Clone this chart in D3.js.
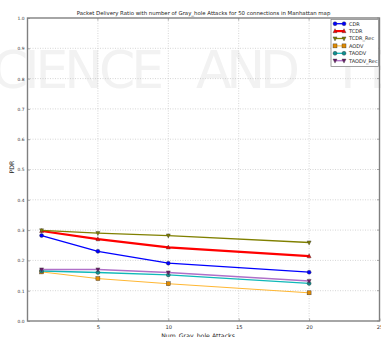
<!DOCTYPE html>
<html lang="en">
  <head>
    <meta charset="utf-8">
    <title>PDR Gray_hole</title>
    <script src="https://cdnjs.cloudflare.com/ajax/libs/d3/7.8.5/d3.min.js"></script>
    <style type="text/css">
      body { margin: 0; background: #fff; }
      text { font-family: "DejaVu Sans", sans-serif; }
    </style>
  </head>
  <body>
    <script type="text/javascript">

    // data
    var attacks = [1, 5, 10, 20];
    var cdr      = [0.282, 0.230, 0.191, 0.161];
    var tcdr     = [0.297, 0.270, 0.243, 0.214];
    var tcdrRec  = [0.299, 0.290, 0.282, 0.259];
    var aodv     = [0.162, 0.140, 0.123, 0.093];
    var taodv    = [0.165, 0.160, 0.152, 0.124];
    var taodvRec = [0.170, 0.170, 0.160, 0.132];
    var xTicks = [5, 10, 15, 20, 25];
    var yTicks = [0, 0.1, 0.2, 0.3, 0.4, 0.5, 0.6, 0.7, 0.8, 0.9, 1.0];

    var series = [
      {name: "CDR",       values: cdr,      color: "#0000ff", marker: "circle",   width: 1.3},
      {name: "TCDR",      values: tcdr,     color: "#ff0000", marker: "triangle", width: 2.2},
      {name: "TCDR_Rec",  values: tcdrRec,  color: "#808000", marker: "tridown",  width: 1.3},
      {name: "AODV",      values: aodv,     color: "#ffb732", marker: "square",   width: 1.0},
      {name: "TAODV",     values: taodv,    color: "#10b8b8", marker: "circle",   width: 1.3},
      {name: "TAODV_Rec", values: taodvRec, color: "#b070c8", marker: "tridown",  width: 1.3}
    ];
    var markerFill = {"TAODV_Rec": "#6a1a6a", "AODV": "#e08a00", "TAODV": "#109090"};

    var w = 381, h = 337;
    var pl = 27.5, pr = 379.5, pt = 18, pb = 321;

    var svg = d3.select("body").append("svg")
                .attr("width", w)
                .attr("height", h);

    // faint watermark from the source page
    var wm = svg.append("g").attr("fill", "#f2f2f2")
                .attr("font-size", "52px");
    wm.append("text").attr("x", -8).attr("y", 88).attr("textLength", 172).text("CIENCE");
    wm.append("text").attr("x", 196).attr("y", 88).attr("textLength", 104).text("AND");
    wm.append("text").attr("x", 332).attr("y", 88).attr("textLength", 70).text("TE");

    var x = d3.scaleLinear().domain([0, 25]).range([pl, pr]);
    var y = d3.scaleLinear().domain([0, 1]).range([pb, pt]);

    // grid
    var grid = svg.append("g").attr("stroke", "#b8b8b8").attr("stroke-width", 0.6)
                  .attr("stroke-dasharray", "1,1.5");
    grid.selectAll("line.gx").data(xTicks.slice(0, -1)).enter().append("line")
        .attr("x1", function(d) { return x(d); }).attr("x2", function(d) { return x(d); })
        .attr("y1", pt).attr("y2", pb);
    grid.selectAll("line.gy").data(yTicks.slice(1, -1)).enter().append("line")
        .attr("x1", pl).attr("x2", pr)
        .attr("y1", function(d) { return y(d); }).attr("y2", function(d) { return y(d); });

    // axes
    var xAxis = d3.axisBottom(x).tickValues(xTicks).tickSize(-2.5).tickPadding(4);
    var yAxis = d3.axisLeft(y).tickValues(yTicks).tickSize(-2.5).tickPadding(3)
                  .tickFormat(d3.format(".1f"));
    var gx = svg.append("g").attr("transform", "translate(0," + pb + ")").call(xAxis);
    gx.selectAll("text").attr("font-size", "5.2px").attr("fill", "#333");
    var gy = svg.append("g").attr("transform", "translate(" + pl + ",0)").call(yAxis);
    gy.selectAll("text").attr("font-size", "4.4px").attr("fill", "#333");
    svg.selectAll(".domain").remove();
    svg.selectAll(".tick line").attr("stroke", "#777").attr("stroke-width", 0.6);

    // top / right ticks
    svg.append("g").selectAll("line").data(xTicks).enter().append("line")
       .attr("x1", function(d) { return x(d); }).attr("x2", function(d) { return x(d); })
       .attr("y1", pt).attr("y2", pt + 2.5).attr("stroke", "#777").attr("stroke-width", 0.6);
    svg.append("g").selectAll("line").data(yTicks).enter().append("line")
       .attr("x1", pr).attr("x2", pr - 2.5)
       .attr("y1", function(d) { return y(d); }).attr("y2", function(d) { return y(d); })
       .attr("stroke", "#777").attr("stroke-width", 0.6);

    svg.append("rect").attr("x", pl).attr("y", pt)
       .attr("width", pr - pl).attr("height", pb - pt)
       .attr("fill", "none").attr("stroke", "#808080").attr("stroke-width", 1.4);

    function drawMarker(g, mk, cx, cy, fill, stroke) {
      var s = 2;
      if (mk === "circle") {
        g.append("circle").attr("cx", cx).attr("cy", cy).attr("r", s)
         .attr("fill", fill).attr("stroke", stroke).attr("stroke-width", 0.4);
      } else if (mk === "square") {
        g.append("rect").attr("x", cx - s).attr("y", cy - s).attr("width", 2 * s).attr("height", 2 * s)
         .attr("fill", fill).attr("stroke", stroke).attr("stroke-width", 0.4);
      } else if (mk === "triangle") {
        g.append("path").attr("d", "M" + cx + "," + (cy - s - 0.4) + "L" + (cx + s) + "," + (cy + s - 0.4) +
                                   "L" + (cx - s) + "," + (cy + s - 0.4) + "Z")
         .attr("fill", fill).attr("stroke", stroke).attr("stroke-width", 0.4);
      } else {
        g.append("path").attr("d", "M" + cx + "," + (cy + s + 0.4) + "L" + (cx + s) + "," + (cy - s + 0.4) +
                                   "L" + (cx - s) + "," + (cy - s + 0.4) + "Z")
         .attr("fill", fill).attr("stroke", stroke).attr("stroke-width", 0.4);
      }
    }

    var line = d3.line()
                 .x(function(d, i) { return x(attacks[i]); })
                 .y(function(d) { return y(d); });

    series.forEach(function(s) {
      var g = svg.append("g");
      var mf = markerFill[s.name] || s.color;
      g.append("path").attr("d", line(s.values)).attr("fill", "none")
       .attr("stroke", s.color).attr("stroke-width", s.width);
      s.values.forEach(function(v, i) {
        drawMarker(g, s.marker, x(attacks[i]), y(v), mf, "#333");
      });
    });

    // legend
    var lg = svg.append("g");
    lg.append("rect").attr("x", 331).attr("y", 19.5).attr("width", 47.5).attr("height", 47)
      .attr("fill", "#fff").attr("stroke", "#777").attr("stroke-width", 0.7);
    series.forEach(function(s, i) {
      var ly = 23.7 + i * 7.4;
      var mf = markerFill[s.name] || s.color;
      lg.append("line").attr("x1", 335).attr("x2", 344).attr("y1", ly).attr("y2", ly)
        .attr("stroke", s.color).attr("stroke-width", s.width);
      drawMarker(lg, s.marker, 335, ly, mf, "#333");
      drawMarker(lg, s.marker, 344, ly, mf, "#333");
      lg.append("text").attr("x", 349).attr("y", ly + 1.8)
        .attr("font-size", "5px").attr("fill", "#222").text(s.name);
    });

    // title and labels
    svg.append("text").attr("x", (pl + pr) / 2).attr("y", 14.5)
       .attr("text-anchor", "middle").attr("font-size", "5.4px").attr("fill", "#222")
       .text("Packet Delivery Ratio with number of Gray_hole Attacks for 50 connections  in Manhattan map");
    svg.append("text").attr("x", 198).attr("y", 337.5)
       .attr("text-anchor", "middle").attr("font-size", "6.2px").attr("fill", "#222")
       .text("Num_Gray_hole Attacks");
    svg.append("text").attr("transform", "translate(14,167) rotate(-90)")
       .attr("text-anchor", "middle").attr("font-size", "6.2px").attr("fill", "#222")
       .text("PDR");

    </script>
  </body>
</html>
